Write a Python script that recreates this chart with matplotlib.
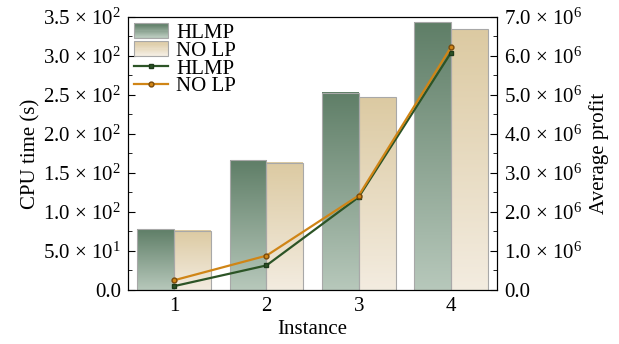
"""
CPU time and average profit per instance
"""
import matplotlib
matplotlib.use("Agg")
import matplotlib.pyplot as plt
import numpy as np
from matplotlib.colors import LinearSegmentedColormap
from matplotlib.legend_handler import HandlerBase
from matplotlib.patches import Rectangle
from matplotlib.ticker import FuncFormatter, MultipleLocator, AutoMinorLocator

plt.rcParams['font.family'] = ['Liberation Serif', 'DejaVu Serif']
plt.rcParams['mathtext.fontset'] = 'custom'
plt.rcParams['mathtext.rm'] = 'Liberation Serif'
plt.rcParams['mathtext.it'] = 'Liberation Serif:italic'
plt.rcParams['font.size'] = 15

instances = [1, 2, 3, 4]
cpu_hlmp = [78, 166, 253, 343]
cpu_nolp = [76, 163, 247, 334]
profit_hlmp = [0.1e6, 0.63e6, 2.38e6, 6.08e6]
profit_nolp = [0.25e6, 0.88e6, 2.42e6, 6.22e6]

green_top, green_bot = "#5f7e67", "#b7c8bb"
tan_top, tan_bot = "#dccaa2", "#f3ece0"
green_line = "#2c5426"
orange_line = "#d08516"


def sci_fmt(v, pos):
    if v == 0:
        return "0.0"
    e = int(np.floor(np.log10(abs(v)) + 1e-9))
    m = v / 10**e
    return "%.1f × 10$^{%d}$" % (m, e)


def gradient_bar(ax, x0, w, h, top, bot):
    cmap = LinearSegmentedColormap.from_list("g", [bot, top])
    grad = np.linspace(0, 1, 256).reshape(-1, 1)
    ax.imshow(grad, extent=[x0, x0 + w, 0, h], origin="lower",
              aspect="auto", cmap=cmap, zorder=1)
    ax.add_patch(Rectangle((x0, 0), w, h, fill=False,
                           edgecolor="#a8a8a8", linewidth=0.8, zorder=2))


class GradHandler(HandlerBase):
    def __init__(self, top, bot):
        super().__init__()
        self.top, self.bot = top, bot

    def create_artists(self, legend, orig_handle, xdescent, ydescent,
                       width, height, fontsize, trans):
        cmap = LinearSegmentedColormap.from_list("g", [self.bot, self.top])
        n = 12
        arts = []
        for i in range(n):
            r = Rectangle((-xdescent, -ydescent + height * i / n), width,
                          height / n + 0.2, facecolor=cmap(i / (n - 1)),
                          edgecolor="none", transform=trans)
            arts.append(r)
        arts.append(Rectangle((-xdescent, -ydescent), width, height,
                              fill=False, edgecolor="#a8a8a8",
                              linewidth=0.8, transform=trans))
        return arts


fig = plt.figure(figsize=(6.19, 3.44), dpi=100)
ax = fig.add_axes([0.207, 0.157, 0.596, 0.794])
ax2 = ax.twinx()

w = 0.4
for i, x in enumerate(instances):
    gradient_bar(ax, x - w, w, cpu_hlmp[i], green_top, green_bot)
    gradient_bar(ax, x, w, cpu_nolp[i], tan_top, tan_bot)

ax.set_xlim(0.5, 4.5)
ax.set_ylim(0, 350)
ax.set_xticks(instances)
ax.yaxis.set_major_locator(MultipleLocator(50))
ax.yaxis.set_minor_locator(AutoMinorLocator(2))
ax.yaxis.set_major_formatter(FuncFormatter(sci_fmt))
ax.tick_params(axis='y', which='both', direction='in')
ax.tick_params(axis='y', which='major', length=5, pad=5)
ax.tick_params(axis='y', which='minor', length=3)
ax.tick_params(axis='x', length=0, pad=5)
ax.set_xlabel("Instance", labelpad=3)
ax.set_ylabel("CPU time (s)", labelpad=2)

l1, = ax2.plot(instances, profit_hlmp, color=green_line, lw=1.6,
               marker='s', ms=3.5, mec="#1e3a1a", zorder=5)
l2, = ax2.plot(instances, profit_nolp, color=orange_line, lw=1.6,
               marker='o', ms=3.5, mec="#7a4a0a", zorder=5)
ax2.set_ylim(0, 7e6)
ax2.yaxis.set_major_locator(MultipleLocator(1e6))
ax2.yaxis.set_minor_locator(AutoMinorLocator(2))
ax2.yaxis.set_major_formatter(FuncFormatter(sci_fmt))
ax2.tick_params(axis='y', which='both', direction='in')
ax2.tick_params(axis='y', which='major', length=5, pad=5)
ax2.tick_params(axis='y', which='minor', length=3)
ax2.set_ylabel("Average profit", labelpad=5)

p1 = Rectangle((0, 0), 1, 1)
p2 = Rectangle((0, 0), 1, 1)
ax2.legend([p1, p2, l1, l2], ["HLMP", "NO LP", "HLMP", "NO LP"],
           loc="upper left", frameon=False, handlelength=1.6,
           handletextpad=0.4, labelspacing=-0.08, borderaxespad=0.2,
           borderpad=0.1,
           handler_map={p1: GradHandler(green_top, green_bot),
                        p2: GradHandler(tan_top, tan_bot)})

plt.savefig("out.png", dpi=100)
